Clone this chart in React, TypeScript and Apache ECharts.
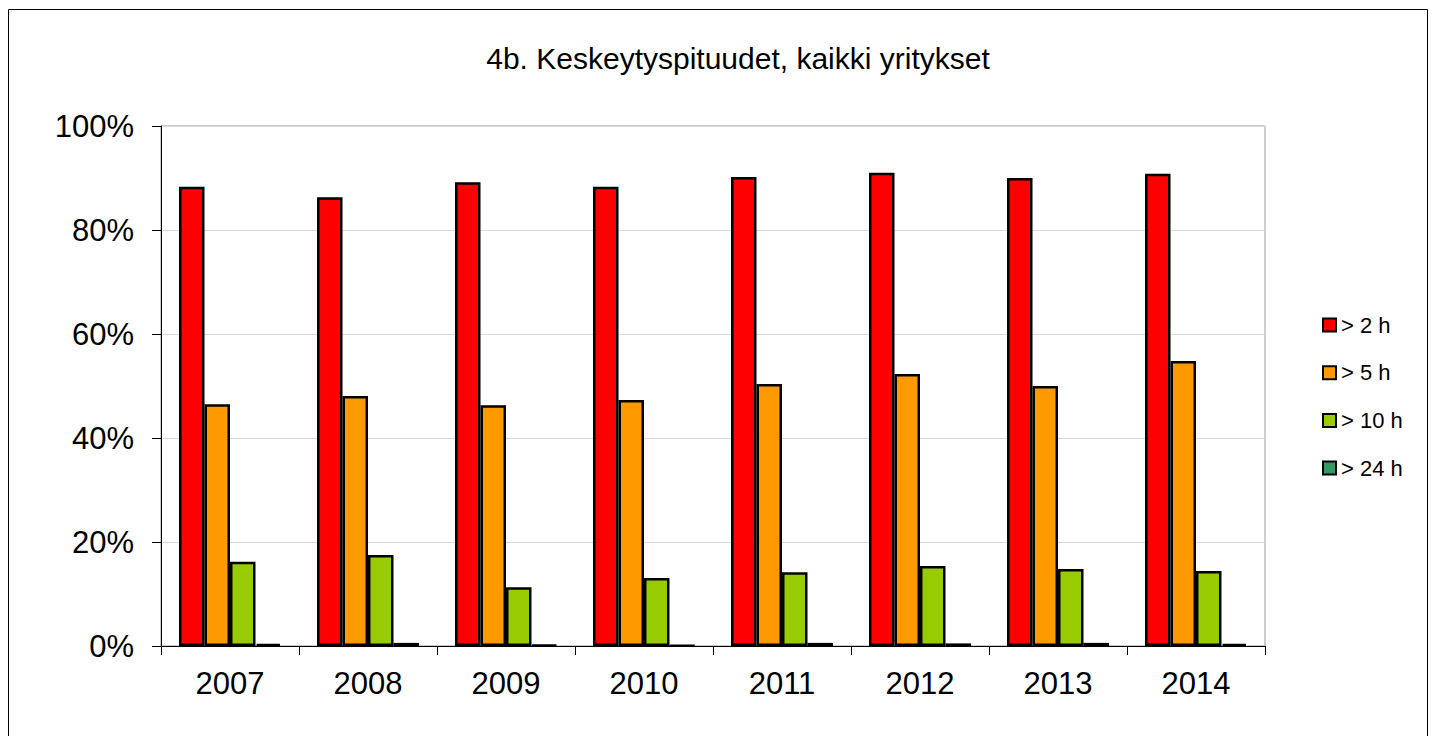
import React, { useEffect, useRef } from "react";
import * as echarts from "echarts";

const years = ["2007", "2008", "2009", "2010", "2011", "2012", "2013", "2014"];
const seriesNames = ["> 2 h", "> 5 h", "> 10 h", "> 24 h"];
const over2h = [88.3, 86.3, 89.2, 88.3, 90.2, 91.0, 90.0, 90.8];
const over5h = [46.5, 48.1, 46.3, 47.3, 50.4, 52.3, 50.0, 54.8];
const over10h = [16.2, 17.5, 11.3, 13.1, 14.2, 15.4, 14.8, 14.4];
const over24h = [0.4, 0.6, 0.2, 0.1, 0.6, 0.5, 0.6, 0.4];
const colors = ["#FF0000", "#FF9900", "#99CC00", "#339966"];
const yTicks = [0, 20, 40, 60, 80, 100];

const FONT = "Liberation Sans, Arial, sans-serif";

export default function App() {
  const ref = useRef<HTMLDivElement>(null);
  useEffect(() => {
    if (!ref.current) return;
    const chart = echarts.init(ref.current, undefined, { renderer: "svg" });
    const data = [over2h, over5h, over10h, over24h];
    chart.setOption({
      animation: false,
      textStyle: { fontFamily: FONT },
      graphic: [
        {
          type: "rect",
          shape: { x: 0.5, y: 1.5, width: 1419, height: 760 },
          style: { fill: "none", stroke: "#000", lineWidth: 1 },
          silent: true,
        },
        {
          type: "text",
          x: 730,
          y: 50,
          style: {
            text: "4b. Keskeytyspituudet, kaikki yritykset",
            fontSize: 30,
            fontFamily: FONT,
            fill: "#000",
            align: "center",
            verticalAlign: "middle",
          },
        },
      ],
      legend: {
        orient: "vertical",
        left: 1309,
        top: 301,
        itemWidth: 13,
        itemHeight: 13,
        itemGap: 25.7,
        icon: "rect",
        data: seriesNames,
        textStyle: { fontSize: 22, color: "#000", fontFamily: FONT },
      },
      grid: {
        left: 153,
        top: 118,
        width: 1104,
        height: 520,
        show: true,
        borderColor: "#999",
        borderWidth: 1,
        containLabel: false,
      },
      xAxis: {
        type: "category",
        data: years,
        axisLine: { lineStyle: { color: "#000", width: 1 } },
        axisTick: { show: true, length: 9, inside: false, lineStyle: { color: "#000" } },
        axisLabel: { fontSize: 31, color: "#000", margin: 22, fontFamily: FONT },
      },
      yAxis: {
        type: "value",
        min: 0,
        max: 100,
        interval: 20,
        axisLine: { show: true, lineStyle: { color: "#000", width: 1 } },
        axisTick: { show: true, length: 9, lineStyle: { color: "#000" } },
        axisLabel: {
          fontSize: 31,
          color: "#000",
          margin: 27,
          fontFamily: FONT,
          formatter: (v: number) => (yTicks.includes(v) ? `${v}%` : ""),
        },
        splitLine: { show: true, lineStyle: { color: "#d9d9d9", width: 1 } },
      },
      series: seriesNames.map((name, i) => ({
        name,
        type: "bar",
        data: data[i],
        barWidth: 25.5,
        barGap: "0%",
        itemStyle: { color: colors[i], borderColor: "#000", borderWidth: 2.5 },
      })),
    });
    return () => chart.dispose();
  }, []);
  return <div ref={ref} style={{ width: 1420, height: 740 }} />;
}
